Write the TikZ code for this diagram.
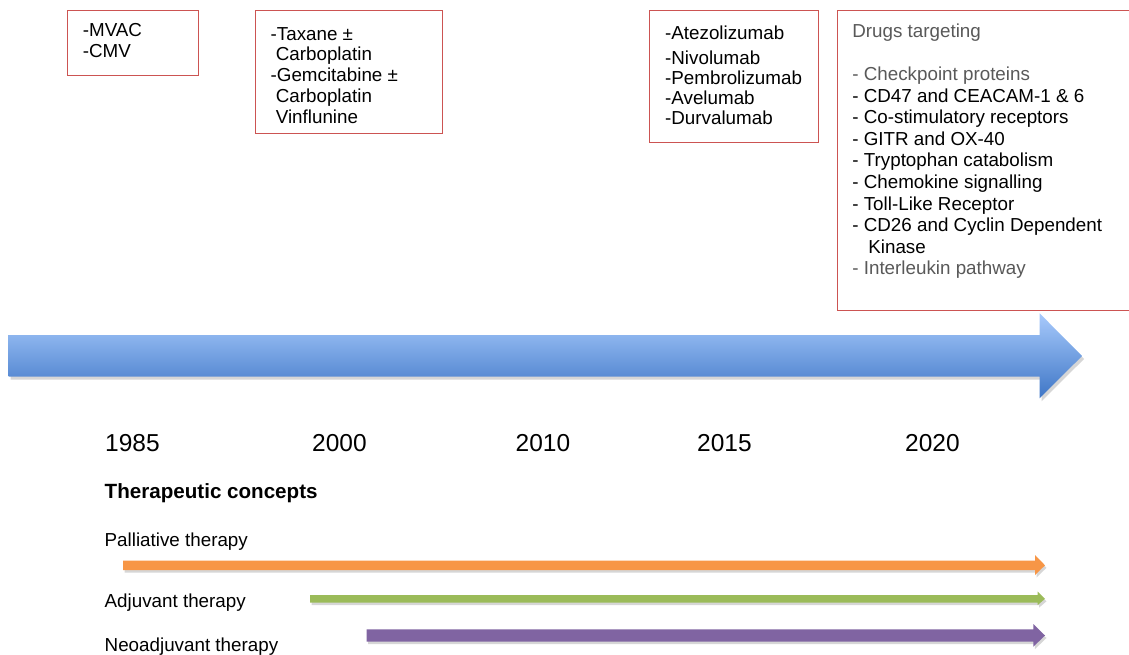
\documentclass[tikz,border=0pt]{standalone}
\usepackage{fontspec}
\setmainfont{Liberation Sans}
\definecolor{boxred}{RGB}{204,84,82}
\definecolor{txtgray}{RGB}{89,89,89}
\definecolor{arrtop}{RGB}{168,202,252}
\definecolor{arrbot}{RGB}{62,118,198}
\definecolor{orangeA}{RGB}{247,150,70}
\definecolor{greenA}{RGB}{155,187,89}
\definecolor{purpleA}{RGB}{128,100,162}
\begin{document}
\begin{tikzpicture}[x=1pt,y=-1pt,
  drugbox/.style={draw=boxred,line width=1.3pt,anchor=north west,inner ysep=13.1pt,inner xsep=15pt,fill=white},
  year/.style={anchor=base west,font=\fontsize{24.5}{28}\selectfont,inner sep=0pt},
  concept/.style={anchor=base west,font=\fontsize{18.8}{22}\selectfont,inner sep=0pt},
  shadowfill/.style={fill=black,opacity=0.16}]
\useasboundingbox (0,0) rectangle (1129,655);

% big timeline arrow
\fill[shadowfill] (10.6,338) -- (1041.6,338) -- (1041.6,316.3) -- (1084,359) -- (1041.6,401.3) -- (1041.6,379.7) -- (10.6,379.7) -- cycle;
\shade[top color=arrtop, bottom color=arrbot] (8.6,335) -- (1039.6,335) -- (1039.6,313.3) -- (1082,356) -- (1039.6,398.3) -- (1039.6,376.7) -- (8.6,376.7) -- cycle;

% boxes
\node[drugbox, inner xsep=15.5pt] (b1) at (66.7,10)
  {\parbox[t][38.8pt][t]{100pt}{\fontsize{18.8}{21}\selectfont -MVAC\\-CMV}};
\node[drugbox, inner ysep=16.5pt] (b2) at (255,10)
  {\parbox[t][90pt][t]{157pt}{\fontsize{18.8}{20.8}\selectfont -Taxane \textpm\\\hspace*{5.2pt}Carboplatin\\-Gemcitabine \textpm\\\hspace*{5.2pt}Carboplatin\\\hspace*{5.2pt}Vinflunine}};
\node[drugbox, inner xsep=15.5pt, inner ysep=14.8pt] (b3) at (649,10)
  {\parbox[t][102.4pt][t]{138pt}{\fontsize{18.8}{20.2}\selectfont -Atezolizumab\\[4.8pt]-Nivolumab\\-Pembrolizumab\\-Avelumab\\-Durvalumab}};
\node[drugbox] (b4) at (836.7,10)
  {\parbox[t][273.8pt][t]{264pt}{\fontsize{18.8}{21.6}\selectfont
  \textcolor{txtgray}{Drugs targeting}\\[21.6pt]
  \textcolor{txtgray}{- Checkpoint proteins}\\
  - CD47 and CEACAM-1 \& 6\\
  - Co-stimulatory receptors\\
  - GITR and OX-40\\
  - Tryptophan catabolism\\
  - Chemokine signalling\\
  - Toll-Like Receptor\\
  - CD26 and Cyclin Dependent\\
  \hspace*{16pt}Kinase\\
  \textcolor{txtgray}{- Interleukin pathway}}};

% years
\node[year] (y1985) at (105,451.7) {1985};
\node[year] (y2000) at (312,451.7) {2000};
\node[year] (y2010) at (515.5,451.7) {2010};
\node[year] (y2015) at (697,451.7) {2015};
\node[year] (y2020) at (905,451.7) {2020};

% therapeutic concepts
\node[anchor=base west,inner sep=0pt,font=\fontsize{20.6}{24}\selectfont\bfseries] (tc) at (104.5,498.3) {Therapeutic concepts};
\node[concept] (pal) at (104.5,546) {Palliative therapy};
\node[concept] (adj) at (104.5,607.3) {Adjuvant therapy};
\node[concept] (neo) at (104.5,651.5) {Neoadjuvant therapy};

% orange arrow
\fill[shadowfill] (124.5,563.2) -- (1036.5,563.2) -- (1036.5,557.5) -- (1046.5,567.8) -- (1036.5,577.5) -- (1036.5,572.5) -- (124.5,572.5) -- cycle;
\fill[orangeA] (123,560.7) -- (1035,560.7) -- (1035,555) -- (1045,565.3) -- (1035,575) -- (1035,570) -- (123,570) -- cycle;
% green arrow
\fill[shadowfill] (311.5,597.5) -- (1039.2,597.5) -- (1039.2,594.2) -- (1046.5,601.3) -- (1039.2,607.5) -- (1039.2,605.2) -- (311.5,605.2) -- cycle;
\fill[greenA] (310,595) -- (1037.7,595) -- (1037.7,591.7) -- (1045,598.8) -- (1037.7,605) -- (1037.7,602.7) -- (310,602.7) -- cycle;
% purple arrow
\fill[shadowfill] (368.2,631.8) -- (1034.8,631.8) -- (1034.8,626.5) -- (1046.5,638) -- (1034.8,649.2) -- (1034.8,644.2) -- (368.2,644.2) -- cycle;
\fill[purpleA] (366.7,629.3) -- (1033.3,629.3) -- (1033.3,624) -- (1045,635.5) -- (1033.3,646.7) -- (1033.3,641.7) -- (366.7,641.7) -- cycle;
\end{tikzpicture}
\end{document}
